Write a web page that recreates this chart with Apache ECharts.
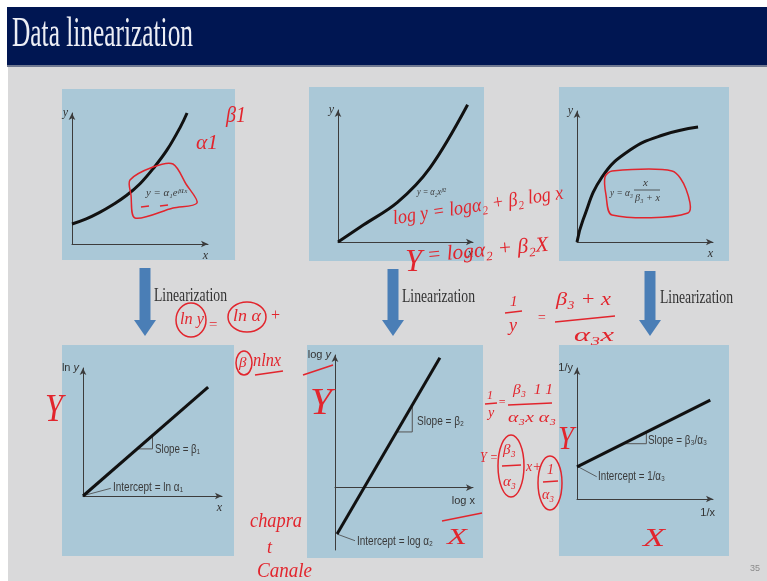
<!DOCTYPE html>
<html>
<head>
<meta charset="utf-8">
<script src="https://cdn.jsdelivr.net/npm/echarts@6/dist/echarts.min.js"></script>
<style>
html,body{margin:0;padding:0;background:#ffffff;}
#c{width:767px;height:581px;}
</style>
</head>
<body>
<div id="c"></div>
<script>
// ---- data (axis units 0..10) ----
const expX = [0, 1, 2, 3, 4, 5, 6, 7, 8, 8.46];
const expY = [1.53, 1.9, 2.4, 3.0, 3.7, 4.6, 5.8, 7.2, 9.0, 10.0];
const powX = [0, 1.9, 4.4, 6.8, 9.6];
const powY = [0, 1.3, 3.0, 5.6, 10.4];
const satX = [0, 0.44, 1.84, 3.9, 6.32, 8.9];
const satY = [0, 1.68, 4.96, 7.02, 8.17, 8.78];
const lnX = [0, 9];
const lnY = [0, 8.5];
const logX = [0.15, 7.6];
const logY = [-3.5, 9.8];
const invX = [0, 9.8];
const invY = [2.45, 7.55];
const tri1 = [[3.9, 3.68], [5, 3.68], [5, 4.72]];
const tri2 = [[4.4, 4.2], [5.6, 4.2], [5.6, 6.3]];
const tri3 = [[3.4, 4.22], [5.1, 4.22], [5.1, 5.1]];
const lead1 = [[0.1, 0.05], [2.0, 0.6]];
const lead2 = [[0.15, -3.5], [1.45, -4.0]];
const lead3 = [[0.1, 2.45], [1.45, 1.7]];
const axisNamesX = ['x', 'x', 'x', 'x', 'log x', '1/x'];
const axisNamesY = ['y', 'y', 'y', 'ln {i|y}', 'log {i|y}', '1/y'];

const zip = (a, b) => a.map((v, i) => [v, b[i]]);
const chart = echarts.init(document.getElementById('c'));

const grids = [
  {left: 72, top: 113, width: 136, height: 131},
  {left: 338, top: 110, width: 135, height: 132},
  {left: 577, top: 111, width: 136, height: 131},
  {left: 83, top: 368, width: 139, height: 128},
  {left: 335, top: 355, width: 138, height: 195},
  {left: 577, top: 368, width: 136, height: 131}
];
const yRanges = [[0,10],[0,10],[0,10],[0,10],[-4.7,10],[0,10]];
const AX = '#3c3c3c';
const nameFont = i => (i < 3 || i === 3 && false) ? 'Liberation Serif' : 'Liberation Sans';

const xAxes = grids.map((g, i) => ({
  gridIndex: i, type: 'value', min: 0, max: 10,
  axisLine: {show: true, onZero: true, symbol: ['none', 'arrow'], symbolSize: [5, 7], lineStyle: {color: AX, width: 1}},
  axisTick: {show: false}, axisLabel: {show: false}, splitLine: {show: false},
  name: axisNamesX[i], nameLocation: 'end', nameGap: 0,
  nameTextStyle: {
    align: 'right', verticalAlign: 'top', padding: [i >= 4 ? 8 : 6, i >= 4 ? -2 : 0, 0, 0],
    color: '#333', fontSize: i >= 4 ? 11 : 12,
    fontFamily: (i >= 4) ? 'Liberation Sans' : 'Liberation Serif',
    fontStyle: (i >= 4) ? 'normal' : 'italic'
  }
}));
const yAxes = grids.map((g, i) => ({
  gridIndex: i, type: 'value', min: yRanges[i][0], max: yRanges[i][1],
  axisLine: {show: true, onZero: true, symbol: ['none', 'arrow'], symbolSize: [5, 7], lineStyle: {color: AX, width: 1}},
  axisTick: {show: false}, axisLabel: {show: false}, splitLine: {show: false},
  name: axisNamesY[i], nameLocation: 'end', nameGap: 0,
  nameTextStyle: {
    align: 'right', verticalAlign: 'middle', padding: [0, 4, 0, 0],
    color: '#333', fontSize: i >= 3 ? 11 : 12,
    fontFamily: (i >= 3) ? 'Liberation Sans' : 'Liberation Serif',
    fontStyle: (i >= 3) ? 'normal' : 'italic',
    rich: {i: {fontStyle: 'italic', fontSize: 11, fontFamily: 'Liberation Sans', color: '#333'}}
  }
}));

function curve(i, data, smooth) {
  return {type: 'line', xAxisIndex: i, yAxisIndex: i, data: data, smooth: smooth, showSymbol: false,
    clip: false, silent: true, lineStyle: {color: '#111', width: 3}, z: 5};
}
function thin(i, data, color, w) {
  return {type: 'line', xAxisIndex: i, yAxisIndex: i, data: data, showSymbol: false,
    clip: false, silent: true, lineStyle: {color: color, width: w}, z: 4};
}
const series = [
  curve(0, zip(expX, expY), 0.4),
  curve(1, zip(powX, powY), 0.35),
  curve(2, zip(satX, satY), 0.45),
  curve(3, zip(lnX, lnY), false),
  curve(4, zip(logX, logY), false),
  curve(5, zip(invX, invY), false),
  thin(3, tri1, '#555', 1), thin(4, tri2, '#555', 1), thin(5, tri3, '#555', 1),
  thin(3, lead1, '#444', 0.8), thin(4, lead2, '#444', 0.8), thin(5, lead3, '#444', 0.8)
];

// ---- text helpers ----
const mctx = document.createElement('canvas').getContext('2d');
function T(str, left, cy, size, o) {
  o = o || {};
  const fam = o.family || 'Liberation Sans';
  const st = o.style || 'normal';
  const wt = o.weight || 'normal';
  mctx.font = st + ' ' + wt + ' ' + size + 'px "' + fam + '"';
  const w = mctx.measureText(str).width;
  const sx = o.width ? o.width / w : (o.sx || 1);
  return {type: 'text', x: left, y: cy, scaleX: sx, rotation: o.rot || 0, z: o.z || 50,
    style: {text: str, fill: o.fill || '#333', fontSize: size, fontFamily: fam, fontStyle: st, fontWeight: wt,
      align: 'left', verticalAlign: 'middle'}};
}
const RED = '#e2252d';
function R(str, left, cy, size, o) {
  o = o || {};
  return T(str, left, cy, size, Object.assign({family: 'Liberation Serif', style: 'italic', fill: RED, z: 100}, o));
}
function L(x1, y1, x2, y2, color, w, z) {
  return {type: 'line', z: z || 100, shape: {x1, y1, x2, y2}, style: {stroke: color || RED, lineWidth: w || 1.5}};
}
function E(cx, cy, rx, ry) {
  return {type: 'ellipse', z: 100, shape: {cx, cy, rx, ry}, style: {stroke: RED, fill: 'none', lineWidth: 1.5}};
}
function P(points, closed) {
  return {type: closed ? 'polygon' : 'polyline', z: 100, shape: {points, smooth: 0.3}, style: {stroke: RED, fill: 'none', lineWidth: 1.5}};
}
function arrow(cx, top) {
  return [
    {type: 'rect', z: 20, shape: {x: cx - 5.5, y: top, width: 11, height: 320 - top}, style: {fill: '#4a7eb6'}},
    {type: 'polygon', z: 20, shape: {points: [[cx - 11, 320], [cx + 11, 320], [cx, 336]]}, style: {fill: '#4a7eb6'}}
  ];
}
const PANEL = '#aac8d7';
function panel(x, y, w, h) {
  return {type: 'rect', z: -1, shape: {x, y, width: w, height: h}, style: {fill: PANEL}};
}

const LBL = {fill: '#3a3a3a'};
const graphics = [
  // slide background
  {type: 'rect', z: -3, shape: {x: 8, y: 66, width: 759, height: 515}, style: {fill: '#d9d9da'}},
  {type: 'rect', z: -2, shape: {x: 7, y: 7, width: 760, height: 58}, style: {fill: '#001652'}},
  {type: 'rect', z: -2, shape: {x: 7, y: 65, width: 760, height: 2}, style: {fill: '#6f7890'}},
  T('Data linearization', 12, 35, 42, {family: 'Liberation Serif', fill: '#eceef5', width: 181}),
  // panels
  panel(62, 89, 173, 171), panel(309, 87, 175, 174), panel(559, 87, 170, 174),
  panel(62, 345, 172, 211), panel(307, 345, 176, 213), panel(559, 345, 170, 211),
  // arrows and labels
  ...arrow(145, 268), ...arrow(393, 269), ...arrow(650, 271),
  T('Linearization', 154, 296, 18, {family: 'Liberation Serif', fill: '#333', width: 73}),
  T('Linearization', 402, 297, 18, {family: 'Liberation Serif', fill: '#333', width: 73}),
  T('Linearization', 660, 298, 18, {family: 'Liberation Serif', fill: '#333', width: 73}),
  // formulas
  T('y = α₁eᵝ¹ˣ', 146, 193, 10, {family: 'Liberation Serif', style: 'italic', fill: '#3a3a3a', width: 41}),
  T('y = α₂xᵝ²', 417, 192, 10, {family: 'Liberation Serif', style: 'italic', fill: '#3a3a3a', width: 29}),
  T('y = α₃', 610, 193, 11, {family: 'Liberation Serif', style: 'italic', fill: '#3a3a3a', width: 23}),
  T('x', 643, 183, 11, {family: 'Liberation Serif', style: 'italic', fill: '#3a3a3a'}),
  L(634, 190, 660, 190, '#3a3a3a', 0.8, 50),
  T('β₃ + x', 635, 198, 11, {family: 'Liberation Serif', style: 'italic', fill: '#3a3a3a', width: 25}),
  // slope / intercept labels
  T('Slope = β₁', 155, 450, 12, Object.assign({width: 45}, LBL)),
  T('Intercept = ln α₁', 113, 488, 12, Object.assign({width: 70}, LBL)),
  T('Slope = β₂', 417, 422, 12, Object.assign({width: 47}, LBL)),
  T('Intercept = log α₂', 357, 542, 12, Object.assign({width: 76}, LBL)),
  T('Slope = β₃/α₃', 648, 441, 12, Object.assign({width: 59}, LBL)),
  T('Intercept = 1/α₃', 598, 477, 12, Object.assign({width: 67}, LBL)),
  T('35', 750, 569, 9, {fill: '#8a8a8a'}),
  // ---- red handwritten annotations ----
  R('β1', 226, 116, 24, {width: 20}),
  R('α1', 196, 144, 20, {width: 22}),
  P([[130, 180], [153, 167], [173, 164], [186, 184], [197, 203], [173, 208], [135, 218], [131, 195]], true),
  L(141, 207, 149, 206), L(160, 206, 168, 205),
  P([[605, 177], [612, 171], [672, 171], [686, 189], [688, 213], [612, 215], [606, 195]], true),
  R('ln y', 180, 320, 17, {width: 24}), E(191, 320, 15, 17),
  R('=', 208, 325, 15),
  R('ln α', 233, 317, 17, {width: 28}), E(247, 317, 19, 15),
  R('+', 270, 316, 16),
  R('β', 239, 363, 15), E(244, 363, 8, 12),
  R('nlnx', 253, 361, 18, {width: 28}),
  L(255, 375, 283, 371),
  R('Y', 45, 410, 40, {width: 18}),
  R('log y = logα₂ + β₂ log x', 393, 219, 20, {width: 172, rot: 0.15}),
  R('Y', 405, 263, 32, {width: 17}),
  R('= logα₂ + β₂X', 427, 256, 21, {width: 122, rot: 0.09}),
  R('1', 510, 302, 15), L(505, 313, 522, 311), R('y', 509, 326, 18),
  R('=', 537, 318, 14),
  R('β₃ + x', 556, 300, 19, {width: 55}), L(555, 322, 615, 316), R('α₃x', 574, 336, 18, {width: 40}),
  R('1', 487, 396, 12), L(485, 404, 497, 403), R('y', 488, 413, 14), R('=', 498, 403, 12),
  R('β₃  1 1', 513, 390, 15, {width: 40}), L(508, 405, 552, 403), R('α₃x α₃', 508, 418, 15, {width: 48}),
  R('Y =', 480, 458, 15, {width: 18}),
  E(511, 466, 13, 31), R('β₃', 503, 450, 15), L(502, 466, 521, 465), R('α₃', 503, 482, 15),
  R('x+', 526, 467, 14),
  E(550, 483, 12, 27), R('1', 547, 470, 14), L(543, 482, 558, 481), R('α₃', 542, 495, 14),
  R('Y', 558, 440, 34, {width: 16}),
  R('X', 643, 539, 26, {width: 22}),
  R('Y', 310, 404, 38, {width: 22}), L(303, 375, 333, 365),
  R('X', 447, 538, 24, {width: 20}), L(442, 521, 482, 513),
  R('chapra', 250, 522, 20, {width: 52}),
  R('t', 267, 548, 18),
  R('Canale', 257, 572, 20, {width: 55})
];

chart.setOption({
  animation: false,
  backgroundColor: 'transparent',
  grid: grids,
  xAxis: xAxes,
  yAxis: yAxes,
  series: series,
  graphic: {elements: graphics}
});
</script>
</body>
</html>
